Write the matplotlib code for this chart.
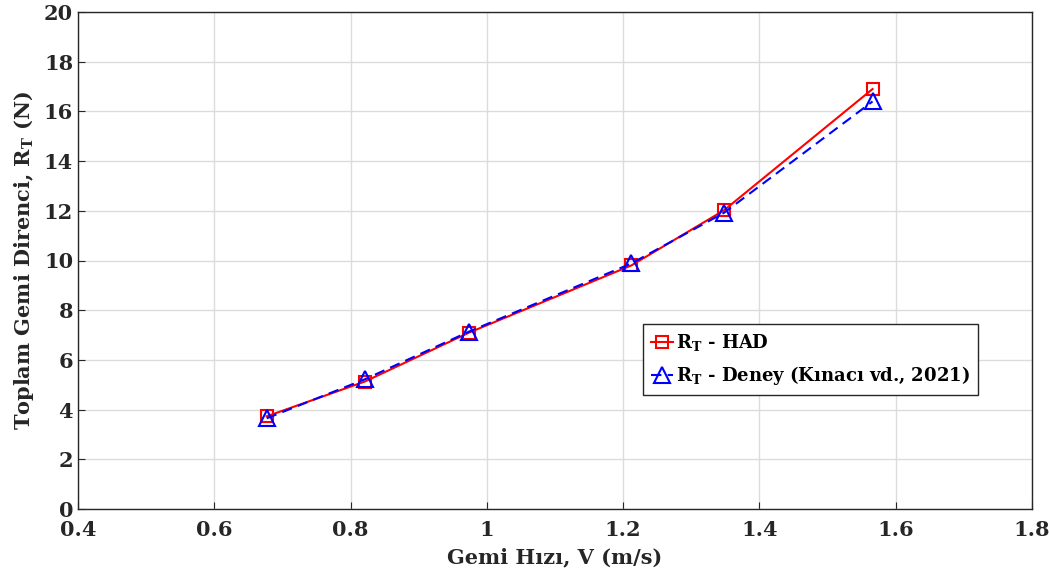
import matplotlib
matplotlib.use('Agg')
import matplotlib.pyplot as plt

# ship speed (m/s) and total resistance (N)
speed = [0.677, 0.821, 0.974, 1.212, 1.348, 1.566]
rt_had = [3.73, 5.13, 7.10, 9.80, 12.02, 16.90]
rt_deney = [3.65, 5.22, 7.14, 9.88, 11.92, 16.40]

xticks = [0.4, 0.6, 0.8, 1.0, 1.2, 1.4, 1.6, 1.8]
xticklabels = ['0.4', '0.6', '0.8', '1', '1.2', '1.4', '1.6', '1.8']
yticks = list(range(0, 21, 2))

plt.rcParams['font.family'] = 'DejaVu Serif'
plt.rcParams['font.weight'] = 'bold'
plt.rcParams['mathtext.fontset'] = 'dejavuserif'
plt.rcParams['mathtext.default'] = 'bf'

fig = plt.figure(figsize=(10.49, 5.79), dpi=100)
ax = fig.add_axes([78 / 1049, 1 - 509 / 579, 954 / 1049, 497 / 579])

ax.plot(speed, rt_had, color='red', linestyle='-', linewidth=1.5,
        marker='s', markersize=8, markerfacecolor='none',
        markeredgewidth=1.5, label=r'R$_\mathbf{T}$ - HAD')
ax.plot(speed, rt_deney, color='blue', linestyle=(0, (5, 3)), linewidth=1.5,
        marker='^', markersize=11, markerfacecolor='none',
        markeredgewidth=1.5, label=r'R$_\mathbf{T}$ - Deney (Kınacı vd., 2021)')

ax.set_xlim(0.4, 1.8)
ax.set_ylim(0, 20)
ax.set_xticks(xticks)
ax.set_xticklabels(xticklabels)
ax.set_yticks(yticks)
ax.tick_params(direction='in', labelsize=15, colors='#262626', length=5)
ax.tick_params(axis='x', pad=8)
for s in ax.spines.values():
    s.set_color('#262626')
    s.set_linewidth(1.0)
ax.grid(True, color='#dcdcdc', linewidth=1.0)
ax.set_axisbelow(True)

ax.set_xlabel('Gemi Hızı, V (m/s)', fontsize=15, fontweight='bold',
              color='#262626', labelpad=5)
ax.set_ylabel(r'Toplam Gemi Direnci, R$_\mathbf{T}$ (N)', fontsize=15,
              fontweight='bold', color='#262626', labelpad=6)

leg = ax.legend(loc='lower left', bbox_to_anchor=(0.592, 0.229), fontsize=13,
                handlelength=1.2, handletextpad=0.2, borderpad=0.45,
                borderaxespad=0, fancybox=False, framealpha=1,
                edgecolor='#262626', labelspacing=0.6)
leg.get_frame().set_linewidth(1.0)

fig.savefig('out.png', dpi=100)
